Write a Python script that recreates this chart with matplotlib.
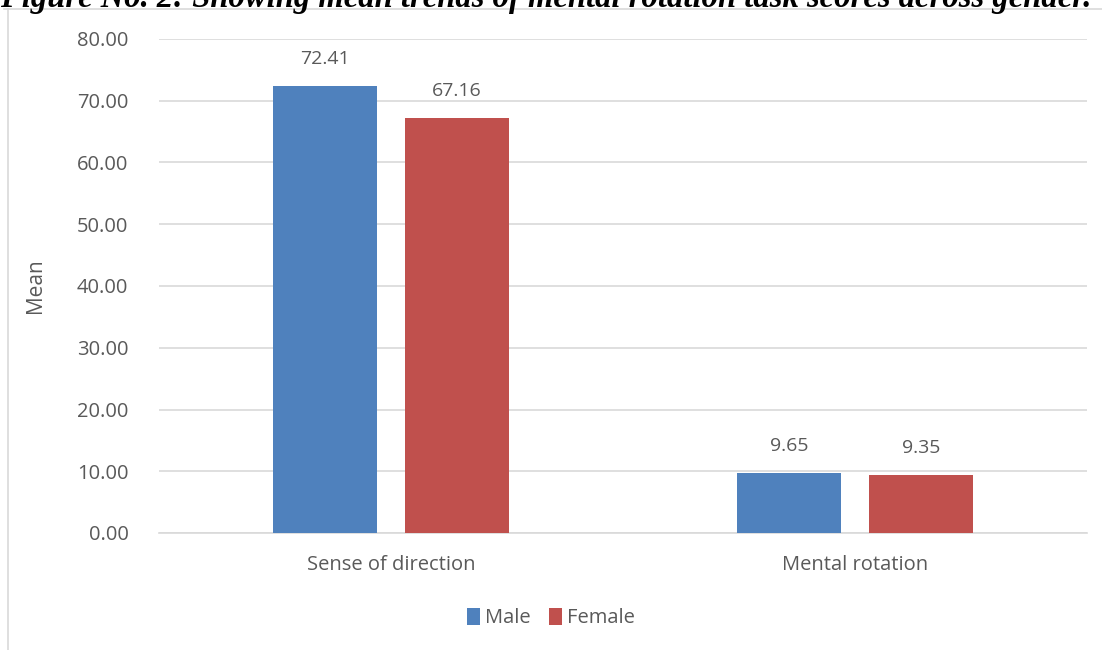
import numpy as np
import matplotlib.pyplot as plt
from matplotlib.lines import Line2D

categories = ['Sense of direction', 'Mental rotation']
male = [72.41, 9.65]
female = [67.16, 9.35]
series = ['Male', 'Female']
colors = ['#4F81BD', '#C0504D']

W, H = 1102, 650
fig = plt.figure(figsize=(W / 100, H / 100), dpi=100)
plt.rcParams['font.family'] = ['Open Sans', 'DejaVu Sans']

# plot area in pixel coords: x 159..1087, y 39..533
ax = fig.add_axes([159 / W, 1 - 533 / H, (1087 - 159) / W, (533 - 39) / H])

x = np.arange(len(categories))
bw = 0.224
off = 0.142
txt = '#595959'
b1 = ax.bar(x - off, male, bw, color=colors[0], label=series[0], zorder=3)
b2 = ax.bar(x + off, female, bw, color=colors[1], label=series[1], zorder=3)
for bars, vals in ((b1, male), (b2, female)):
    for r, v in zip(bars, vals):
        ax.annotate(f'{v:.2f}', (r.get_x() + r.get_width() / 2, v),
                    xytext=(0, 13), textcoords='offset points',
                    ha='center', va='bottom', fontsize=14, color=txt)

ax.set_xlim(-0.5, 1.5)
ax.set_ylim(0, 80)
ax.set_yticks(np.arange(0, 81, 10))
ax.set_yticklabels([f'{v:.2f}' for v in np.arange(0, 81, 10)])
ax.set_xticks(x)
ax.set_xticklabels(categories)
ax.grid(axis='y', color='#D9D9D9', linewidth=1.2, zorder=0)
for s in ['top', 'right', 'left']:
    ax.spines[s].set_visible(False)
ax.spines['bottom'].set_color('#D9D9D9')
ax.spines['bottom'].set_linewidth(1.2)
ax.tick_params(axis='both', length=0, labelsize=14.5, colors=txt)
ax.tick_params(axis='y', pad=22)
ax.tick_params(axis='x', pad=16)
ax.set_ylabel('Mean', fontsize=15, color=txt, labelpad=22)

fig.legend(handles=[b1, b2], labels=series, loc='center', bbox_to_anchor=(0.5, 1 - 618 / H),
           ncol=2, frameon=False, fontsize=14.5, labelcolor=txt, handlelength=0.65,
           handleheight=0.9, handletextpad=0.25, columnspacing=0.9)

# chart frame edges
fig.add_artist(Line2D([8 / W, 8 / W], [0, 1 - 9 / H], color='#D9D9D9', linewidth=1.2))
fig.add_artist(Line2D([4 / W, 1], [1 - 9 / H, 1 - 9 / H], color='#D9D9D9', linewidth=1.2))

# title, partly cut at top
fig.text(0.0, 1 - 7 / H, 'Figure No. 2: Showing mean trends of mental rotation task scores across gender.',
         fontfamily='Liberation Serif', fontweight='bold', fontstyle='italic',
         fontsize=23.5, ha='left', va='baseline', color='black')

fig.savefig('out.png', dpi=100)
